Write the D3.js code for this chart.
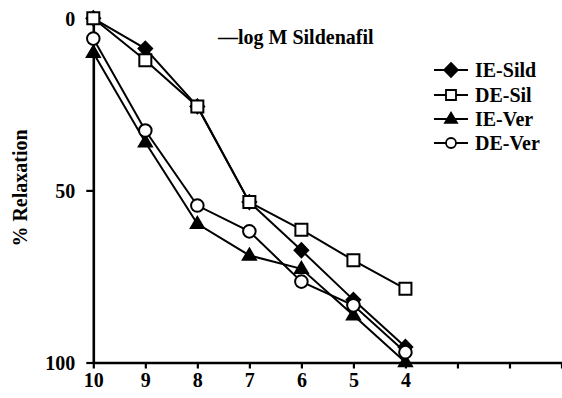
<!DOCTYPE html>
<html><head><meta charset="utf-8">
<script src="https://cdn.jsdelivr.net/npm/d3@7"></script>
<style>
html,body{margin:0;padding:0;background:#fff;}
svg{display:block;}
text{font-family:"Liberation Serif","Times New Roman",serif;font-weight:bold;fill:#000;}
</style></head><body>
<svg id="chart" width="562" height="398"></svg>
<script>
// ---- data ----
const concentrations = [10, 9, 8, 7, 6, 5, 4];          // -log M Sildenafil
const axisTicks = [10, 9, 8, 7, 6, 5, 4, 3, 2, 1];
const labelledTicks = [10, 9, 8, 7, 6, 5, 4];
const yTicks = [0, 50, 100];
const seriesNames = ["IE-Sild", "DE-Sil", "IE-Ver", "DE-Ver"];
const ieSild = [0, 8.8, 25.6, 53.4, 67.4, 81.8, 95.5];
const deSil  = [0, 12.2, 25.6, 53.4, 61.4, 70.3, 78.6];
const ieVer  = [10, 36, 59.7, 68.9, 72.8, 86.3, 99.9];
const deVer  = [5.9, 32.6, 54.4, 61.9, 76.5, 83.4, 97];
const titleText = "\u2014log M Sildenafil";
const yLabel = "% Relaxation";

// ---- layout ----
const svg = d3.select("#chart");
const x = d3.scaleLinear().domain([10, 1]).range([93.3, 561.5]);
const y = d3.scaleLinear().domain([0, 100]).range([18.3, 362.5]);

// custom symbols
const diamond = { draw(ctx, size) { const w = 6.8, h = 7; ctx.moveTo(0,-h); ctx.lineTo(w,0); ctx.lineTo(0,h); ctx.lineTo(-w,0); ctx.closePath(); } };
const square = { draw(ctx, size) { const s = size/2; ctx.rect(-s,-s,size,size); } };
const tri = { draw(ctx, size) { const w = size/2, h = size*0.85; ctx.moveTo(0,-h*0.62); ctx.lineTo(w,h*0.38); ctx.lineTo(-w,h*0.38); ctx.closePath(); } };
const circ = { draw(ctx, size) { ctx.moveTo(size,0); ctx.arc(0,0,size,0,2*Math.PI); } };

const series = [
  { name: seriesNames[0], values: ieSild, type: diamond, size: 13, fill: "#000", lsize: 11 },
  { name: seriesNames[1], values: deSil,  type: square,  size: 12, fill: "#fff", lsize: 10 },
  { name: seriesNames[2], values: ieVer,  type: tri,     size: 13, fill: "#000", lsize: 12 },
  { name: seriesNames[3], values: deVer,  type: circ,    size: 6.3, fill: "#fff", lsize: 5 }
];

// axes
const yAxis = svg.append("g").attr("transform", `translate(${x(10)},0)`)
  .call(d3.axisLeft(y).tickValues(yTicks).tickSize(7).tickSizeOuter(0).tickPadding(11));
const xAxis = svg.append("g").attr("transform", `translate(0,${y(100)})`)
  .call(d3.axisBottom(x).tickValues(axisTicks).tickSize(6).tickSizeOuter(0).tickPadding(4)
    .tickFormat(d => labelledTicks.includes(d) ? d : ""));
[yAxis, xAxis].forEach(g => {
  g.select(".domain").attr("stroke", "#000").attr("stroke-width", 2.6);
  g.selectAll(".tick line").attr("stroke", "#000").attr("stroke-width", 2.2);
  g.selectAll(".tick text").style("font-size", "20px").attr("fill", "#000");
});
yAxis.selectAll(".tick text").attr("dy", "0.34em");

// lines + markers
const line = d3.line().x((d, i) => x(concentrations[i])).y(d => y(d));
series.forEach(s => {
  svg.append("path").datum(s.values).attr("d", line)
    .attr("fill", "none").attr("stroke", "#000").attr("stroke-width", 2);
});
series.forEach(s => {
  svg.append("g").selectAll("path").data(s.values).join("path")
    .attr("transform", (d, i) => `translate(${x(concentrations[i])},${y(d)})`)
    .attr("d", d3.symbol().type(s.type).size(s.size))
    .attr("fill", s.fill).attr("stroke", "#000").attr("stroke-width", 2);
});

// title
svg.append("text").attr("x", 218).attr("y", 44).style("font-size", "20px").text(titleText);

// y label
svg.append("text").attr("transform", "translate(27,188) rotate(-90)")
  .attr("text-anchor", "middle").style("font-size", "20px").text(yLabel);

// legend
const legendRows = [70, 95, 119, 143];
const lg = svg.append("g");
series.forEach((s, i) => {
  const r = legendRows[i];
  lg.append("line").attr("x1", 434).attr("x2", 468).attr("y1", r).attr("y2", r)
    .attr("stroke", "#000").attr("stroke-width", 2);
  lg.append("path").attr("transform", `translate(451,${r})`)
    .attr("d", d3.symbol().type(s.type).size(s.lsize))
    .attr("fill", s.fill).attr("stroke", "#000").attr("stroke-width", 1.8);
  lg.append("text").attr("x", 475).attr("y", r).attr("dy", "0.34em")
    .style("font-size", "20px").text(s.name);
});
</script>
</body></html>
